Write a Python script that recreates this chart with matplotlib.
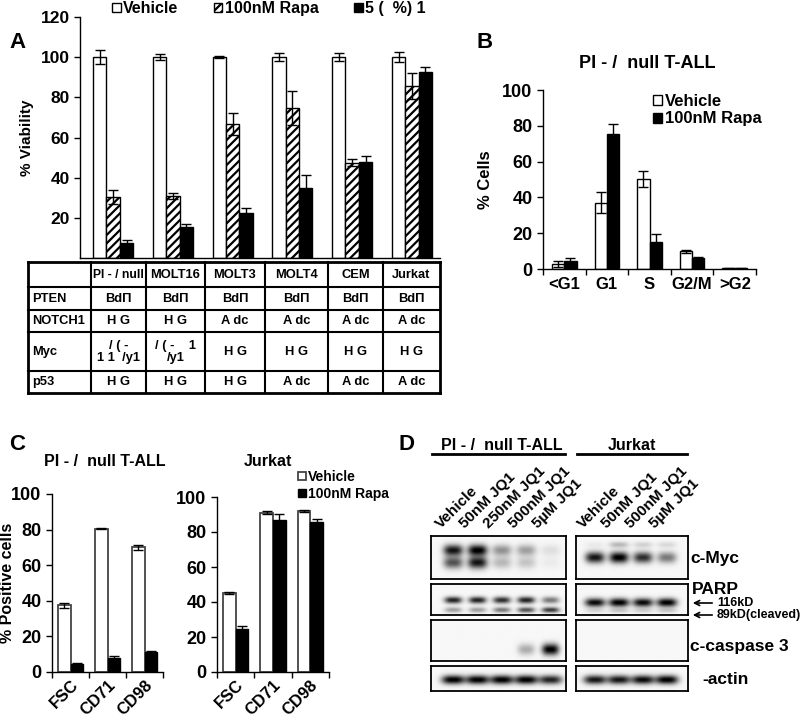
import numpy as np
import matplotlib
matplotlib.use("Agg")
import matplotlib.pyplot as plt
from matplotlib.lines import Line2D
from matplotlib.patches import FancyArrowPatch

plt.rcParams['font.family'] = ['Liberation Sans', 'DejaVu Sans']
plt.rcParams['font.weight'] = 'bold'
plt.rcParams['hatch.linewidth'] = 1.6
plt.rcParams['axes.linewidth'] = 1.0

# ---------------- data ----------------
# Panel A
a_lines = ["PI - / null", "MOLT16", "MOLT3", "MOLT4", "CEM", "Jurkat"]
a_vehicle = [100, 100, 100, 100, 100, 100]
a_vehicle_err = [3.5, 1.5, 0.5, 2, 2, 2.5]
a_rapa = [30.5, 31, 66.5, 74.5, 47.5, 85.5]
a_rapa_err = [3.5, 1.5, 5.5, 8.5, 1.8, 6.5]
a_jq1 = [7.5, 15.5, 22.5, 35, 48, 92.5]
a_jq1_err = [1.5, 1.5, 2.5, 6.5, 3, 2.5]
a_legend = ["Vehicle", "100nM Rapa", "5 (  %) 1"]
a_yticks = [20, 40, 60, 80, 100, 120]

t_rows = ["PTEN", "NOTCH1", "Myc", "p53"]
t_pten = ["BdΠ", "BdΠ", "BdΠ", "BdΠ", "BdΠ", "BdΠ"]
t_notch = ["H G", "H G", "A dc", "A dc", "A dc", "A dc"]
t_myc = ["/ ( -\n1 1  /y1", "/ ( -    1\n/y1", "H G", "H G", "H G", "H G"]
t_p53 = ["H G", "H G", "H G", "A dc", "A dc", "A dc"]

# Panel B
b_phases = ["<G1", "G1", "S", "G2/M", ">G2"]
b_vehicle = [2.8, 37, 50.5, 10, 0.3]
b_vehicle_err = [1.5, 5.8, 4.5, 0.8, 0.1]
b_rapa = [4.5, 75.5, 15, 6, 0.3]
b_rapa_err = [1.5, 5.5, 4.5, 0.6, 0.1]

# Panel C
c_markers = ["FSC", "CD71", "CD98"]
c_null_vehicle = [37.5, 80.5, 70]
c_null_vehicle_err = [1.5, 0.3, 1.3]
c_null_rapa = [4.5, 7.8, 11]
c_null_rapa_err = [0.3, 1.0, 0.8]
c_jur_vehicle = [45, 91, 91.8]
c_jur_vehicle_err = [0.5, 0.8, 0.5]
c_jur_rapa = [24.8, 87, 85.5]
c_jur_rapa_err = [1.5, 3.3, 1.8]

# Panel D (relative band intensities)
d_left_lanes = ["Vehicle", "50nM JQ1", "250nM JQ1", "500nM JQ1", "5µM JQ1"]
d_right_lanes = ["Vehicle", "50nM JQ1", "500nM JQ1", "5µM JQ1"]
myc_left_upper = [0.9, 1.0, 0.4, 0.35, 0.1]
myc_left_lower = [0.65, 0.9, 0.25, 0.2, 0.05]
myc_right_upper = [0.05, 0.25, 0.15, 0.12]
myc_right_main = [0.9, 1.0, 0.8, 0.5]
parp_left_116 = [0.85, 0.85, 0.8, 0.85, 0.5]
parp_left_89 = [0.35, 0.35, 0.5, 0.65, 0.75]
parp_right_116 = [0.95, 1.0, 0.95, 1.0]
parp_right_89 = [0.12, 0.18, 0.15, 0.18]
casp_left = [0.0, 0.0, 0.0, 0.3, 1.0]
casp_right = [0.0, 0.0, 0.0, 0.0]
actin_left = [1.0, 1.0, 1.0, 1.0, 0.85]
actin_right = [0.9, 0.9, 0.95, 1.0]

W, H = 800, 719
fig = plt.figure(figsize=(W / 100, H / 100), dpi=100)


def pos(x0, y0, x1, y1):
    return [x0 / W, 1 - y1 / H, (x1 - x0) / W, (y1 - y0) / H]


def ftxt(x, y, s, **kw):
    fig.text(x / W, 1 - y / H, s, **kw)


def fline(x0, y0, x1, y1, lw=1.5):
    fig.add_artist(Line2D([x0 / W, x1 / W], [1 - y0 / H, 1 - y1 / H],
                          transform=fig.transFigure, color='black', lw=lw))


def style_ax(ax, fs):
    for s in ['top', 'right']:
        ax.spines[s].set_visible(False)
    ax.tick_params(axis='both', direction='out', length=4, width=1, labelsize=fs)
    for lab in ax.get_yticklabels():
        lab.set_fontweight('bold')


ekw = dict(ecolor='black', elinewidth=1, capsize=3.5, capthick=1)

# ---------------- Panel A ----------------
axA = fig.add_axes(pos(80, 17, 440, 258))
x = np.arange(len(a_lines))
bw = 0.224
b1 = axA.bar(x - bw, a_vehicle, bw, yerr=a_vehicle_err, color='white', edgecolor='black', lw=1, error_kw=ekw, label=a_legend[0])
b2 = axA.bar(x, a_rapa, bw, yerr=a_rapa_err, color='white', edgecolor='black', lw=1, hatch='////', error_kw=ekw, label=a_legend[1])
b3 = axA.bar(x + bw, a_jq1, bw, yerr=a_jq1_err, color='black', edgecolor='black', lw=1, error_kw=ekw, label=a_legend[2])
axA.set_xlim(-0.555, 5.47)
axA.set_ylim(0, 120)
axA.set_yticks(a_yticks)
axA.set_xticks([])
axA.set_ylabel("% Viability", fontsize=11, fontweight='bold', labelpad=5)
style_ax(axA, 12.5)
axA.legend(handles=[b1, b2, b3], loc='lower left', bbox_to_anchor=(112 / W, 1 - 16 / H), bbox_transform=fig.transFigure,
           ncol=3, frameon=False, fontsize=11.5, handlelength=0.55, handleheight=0.55, handletextpad=0.15,
           columnspacing=2.2, borderaxespad=0, borderpad=0)
ftxt(9, 42, "A", fontsize=16, fontweight='bold', va='center')

# table
col_b = [28, 91, 146, 205, 265, 328, 383, 440]
row_b = [262, 287, 310, 332, 371, 393]
for i, xx in enumerate(col_b):
    fline(xx, row_b[0], xx, row_b[-1], lw=2 if i in (0, len(col_b) - 1) else 1.5)
for i, yy in enumerate(row_b):
    fline(col_b[0], yy, col_b[-1], yy, lw=2 if i in (0, len(row_b) - 1) else 1.5)
tfs = 9.3
for j, name in enumerate(a_lines):
    ftxt((col_b[j + 1] + col_b[j + 2]) / 2, (row_b[0] + row_b[1]) / 2, name,
         fontsize=tfs - (0.6 if j == 0 else 0), fontweight='bold', ha='center', va='center')
for r, (lab, vals) in enumerate(zip(t_rows, [t_pten, t_notch, t_myc, t_p53])):
    yc = (row_b[r + 1] + row_b[r + 2]) / 2
    ftxt(col_b[0] + 4, yc, lab, fontsize=tfs, fontweight='bold', ha='left', va='center')
    for j, v in enumerate(vals):
        ftxt((col_b[j + 1] + col_b[j + 2]) / 2, yc, v, fontsize=tfs, fontweight='bold', ha='center', va='center',
             linespacing=1.0)

# ---------------- Panel B ----------------
axB = fig.add_axes(pos(543, 90, 756, 269))
xb = np.arange(len(b_phases)) + 0.5
bwb = 0.29
axB.bar(xb - bwb / 2, b_vehicle, bwb, yerr=b_vehicle_err, color='white', edgecolor='black', lw=1, error_kw=ekw, label='Vehicle')
axB.bar(xb + bwb / 2, b_rapa, bwb, yerr=b_rapa_err, color='black', edgecolor='black', lw=1, error_kw=ekw, label='100nM Rapa')
axB.set_xlim(0, 5)
axB.set_ylim(0, 100)
axB.set_yticks([0, 20, 40, 60, 80, 100])
axB.set_xticks(np.arange(0, 6))
axB.set_xticklabels([])
axB.set_xticks(xb, minor=True)
axB.set_xticklabels(b_phases, minor=True, fontsize=12, fontweight='bold')
axB.tick_params(axis='x', which='minor', length=0, pad=6)
style_ax(axB, 13)
axB.set_ylabel("% Cells", fontsize=12, fontweight='bold', labelpad=7)
axB.legend(loc='upper left', bbox_to_anchor=(653 / W, 1 - 94 / H), bbox_transform=fig.transFigure, frameon=False,
           fontsize=12, handlelength=0.55, handleheight=0.55, handletextpad=0.15, labelspacing=0.15, borderaxespad=0, borderpad=0)
ftxt(647, 63, "PI - /  null T-ALL", fontsize=13, fontweight='bold', ha='center', va='center')
ftxt(477, 43, "B", fontsize=16, fontweight='bold', va='center')

# ---------------- Panel C ----------------
def c_panel(box, veh, veh_e, rap, rap_e, title, tx):
    ax = fig.add_axes(pos(*box))
    xc = np.arange(len(c_markers)) + 0.5
    w = 0.34
    ax.bar(xc - w / 2, veh, w, yerr=veh_e, color='white', edgecolor='#444444', lw=1.3, error_kw=ekw, label='Vehicle')
    ax.bar(xc + w / 2, rap, w, yerr=rap_e, color='black', edgecolor='black', lw=1, error_kw=ekw, label='100nM Rapa')
    ax.set_xlim(0, 3)
    ax.set_ylim(0, 100)
    ax.set_yticks([0, 20, 40, 60, 80, 100])
    ax.set_xticks(np.arange(0, 4))
    ax.set_xticklabels([])
    ax.set_xticks(xc, minor=True)
    ax.set_xticklabels(c_markers, minor=True, rotation=45, ha='right', rotation_mode='anchor', fontsize=12, fontweight='bold')
    ax.tick_params(axis='x', which='minor', length=0, pad=4)
    style_ax(ax, 13)
    ftxt(tx, 462, title, fontsize=11.5, fontweight='bold', ha='center', va='center')
    return ax

axC1 = c_panel((52, 494, 163, 672), c_null_vehicle, c_null_vehicle_err, c_null_rapa, c_null_rapa_err, "PI - /  null T-ALL", 105)
ftxt(8, 583, "% Positive cells", fontsize=11.5, fontweight='bold', rotation=90, ha='center', va='center')
axC2 = c_panel((217, 497, 329, 672), c_jur_vehicle, c_jur_vehicle_err, c_jur_rapa, c_jur_rapa_err, "Jurkat", 268)
axC2.legend(loc='upper left', bbox_to_anchor=(298 / W, 1 - 470 / H), bbox_transform=fig.transFigure, frameon=False,
            fontsize=10, handlelength=0.55, handleheight=0.55, handletextpad=0.15, labelspacing=0.2, borderaxespad=0, borderpad=0)
ftxt(9, 445, "C", fontsize=16, fontweight='bold', va='center')

# ---------------- Panel D ----------------
ftxt(398, 445, "D", fontsize=16, fontweight='bold', va='center')
ftxt(502, 445, "PI - /  null T-ALL", fontsize=11.5, fontweight='bold', ha='center', va='center')
fline(432, 454, 565, 454, lw=2)
ftxt(632, 445, "Jurkat", fontsize=11.5, fontweight='bold', ha='center', va='center')
fline(577, 454, 687, 454, lw=2)


def blot(box, xlim, bands, sx=0.36):
    ax = fig.add_axes(pos(*box))
    xs = np.linspace(xlim[0], xlim[1], 400)
    ys = np.linspace(0, 1, 120)
    X, Y = np.meshgrid(xs, ys)
    img = np.full_like(X, 0.03)
    for yc, sy, ints in bands:
        for i, v in enumerate(ints):
            img += v * np.exp(-np.abs((X - i) / sx) ** 3) * np.exp(-((Y - yc) / sy) ** 2)
    ax.imshow(np.clip(img, 0, 1), cmap='gray_r', vmin=0, vmax=1.0, extent=(xlim[0], xlim[1], 1, 0),
              aspect='auto', interpolation='bilinear')
    ax.set_xlim(*xlim)
    ax.set_ylim(1, 0)
    ax.set_xticks([])
    ax.set_yticks([])
    for s in ax.spines.values():
        s.set_linewidth(1.3)
    return ax

L = (431, 566)
R = (576, 688)
xlL = (-0.91, 4.67)
xlR = (-0.79, 3.875)
rows_y = {'myc': (536, 579), 'parp': (584, 615), 'casp': (620, 661), 'actin': (666, 691)}

blot((L[0], rows_y['myc'][0], L[1], rows_y['myc'][1]), xlL,
     [(0.33, 0.13, myc_left_upper), (0.62, 0.14, myc_left_lower)], sx=0.4)
blot((R[0], rows_y['myc'][0], R[1], rows_y['myc'][1]), xlR,
     [(0.2, 0.07, myc_right_upper), (0.5, 0.13, myc_right_main)], sx=0.4)
blot((L[0], rows_y['parp'][0], L[1], rows_y['parp'][1]), xlL,
     [(0.52, 0.11, parp_left_116), (0.84, 0.09, parp_left_89)])
blot((R[0], rows_y['parp'][0], R[1], rows_y['parp'][1]), xlR,
     [(0.6, 0.14, parp_right_116), (0.86, 0.08, parp_right_89)], sx=0.42)
blot((L[0], rows_y['casp'][0], L[1], rows_y['casp'][1]), xlL,
     [(0.72, 0.14, casp_left)], sx=0.35)
blot((R[0], rows_y['casp'][0], R[1], rows_y['casp'][1]), xlR,
     [(0.72, 0.13, casp_right)])
blot((L[0], rows_y['actin'][0], L[1], rows_y['actin'][1]), xlL,
     [(0.55, 0.18, actin_left)], sx=0.47)
blot((R[0], rows_y['actin'][0], R[1], rows_y['actin'][1]), xlR,
     [(0.55, 0.18, actin_right)], sx=0.47)

# lane labels
for i, lab in enumerate(d_left_lanes):
    xpx = 453 + 24.2 * i
    ftxt(xpx - 10, 531, lab, fontsize=11, fontweight='bold', rotation=45, ha='left', va='bottom', rotation_mode='anchor')
for i, lab in enumerate(d_right_lanes):
    xpx = 595 + 24 * i
    ftxt(xpx - 10, 531, lab, fontsize=11, fontweight='bold', rotation=45, ha='left', va='bottom', rotation_mode='anchor')

ftxt(690, 558, "c-Myc", fontsize=12.5, fontweight='bold', va='center')
ftxt(692, 589, "PARP", fontsize=12.5, fontweight='bold', va='center')
ftxt(690, 647, "c-caspase 3", fontsize=12.5, fontweight='bold', va='center')
ftxt(702, 680, "-actin", fontsize=12.5, fontweight='bold', va='center')
for yy, lab in [(603, "116kD"), (615, "89kD(cleaved)")]:
    fig.add_artist(FancyArrowPatch((715 / W, 1 - yy / H), (690 / W, 1 - yy / H),
                                   transform=fig.transFigure, arrowstyle='->', mutation_scale=9,
                                   lw=1.2, color='black'))
    ftxt(717, yy, lab, fontsize=9, fontweight='bold', va='center')

fig.savefig("out.png", dpi=100)
